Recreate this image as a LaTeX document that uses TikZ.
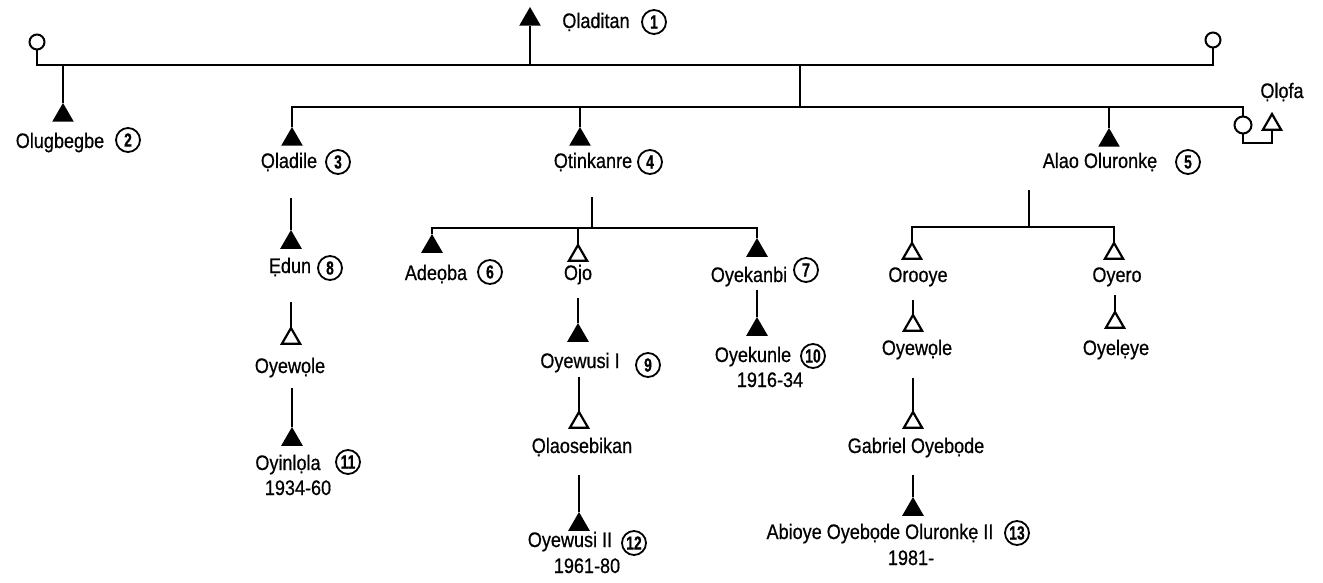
\documentclass[tikz,border=0pt]{standalone}
\usepackage{fontspec}
\setmainfont{Liberation Sans}[FakeStretch=0.86,FakeBold=0.6]
\usetikzlibrary{shapes.geometric}
\tikzset{
  male/.style={regular polygon, regular polygon sides=3, fill=black, inner sep=0pt, outer sep=0pt, minimum size=12.5pt},
  opentri/.style={regular polygon, regular polygon sides=3, draw, fill=white, line width=1.1pt, inner sep=0pt, outer sep=0pt, minimum size=10.5pt},
  female/.style={circle, draw, fill=white, line width=1pt, inner sep=0pt, outer sep=0pt, minimum size=7.5pt},
  person/.style={anchor=base, inner sep=0pt, font=\fontsize{10.5}{12}\selectfont},
  badge/.style={circle, draw, line width=0.9pt, inner sep=0pt, minimum size=12pt, font=\fontsize{9.5}{9.5}\selectfont\bfseries},
}
\newcommand{\nr}[1]{\scalebox{0.85}[1]{#1}}
\begin{document}
\begin{tikzpicture}[x=0.5pt,y=-0.5pt,line width=1pt]
\useasboundingbox (0,0) rectangle (1323,583);
% first generation
\node[male, anchor=corner 1] (tOladitan) at (530,7) {};
\node[person] (nOladitan) at (596,28) {Ọladitan};
\node[badge] (c1) at (654,22) {\nr{1}};
\node[female] (fL) at (37,42) {};
\node[female] (fR) at (1213,40) {};
\coordinate (m1) at (530,65);
\draw (fL.south) |- (m1) -| (fR.south);
\draw (m1) -- (tOladitan.side 2);
% second generation
\node[male, anchor=corner 1] (tOlugbegbe) at (63,103) {};
\node[person] (nOlugbegbe) at (60,148) {Olugbegbe};
\node[badge] (c2) at (128,140) {\nr{2}};
\draw (tOlugbegbe.corner 1 |- m1) -- (tOlugbegbe.corner 1);
\node[male, anchor=corner 1] (tOladile) at (292,127) {};
\node[person] (nOladile) at (289,168) {Ọladile};
\node[badge] (c3) at (338,162) {\nr{3}};
\node[male, anchor=corner 1] (tOtinkanre) at (580,127) {};
\node[person] (nOtinkanre) at (593,168) {Ọtinkanre};
\node[badge] (c4) at (650,162) {\nr{4}};
\node[male, anchor=corner 1] (tAlao) at (1109,128) {};
\node[person] (nAlao) at (1100,168) {Alao\ Oluronkẹ};
\node[badge] (c5) at (1188,162) {\nr{5}};
\node[female, minimum size=8.5pt] (fW) at (1243,125) {};
\node[opentri, anchor=corner 1] (tOlofa) at (1272,114) {};
\node[person] (nOlofa) at (1282,98) {Ọlọfa};
\coordinate (m2) at (800,107);
\coordinate (m3) at (1258,143);
\draw (m2 |- m1) -- (m2);
\draw (tOladile.corner 1) |- (m2) -| (fW.north);
\draw (tOtinkanre.corner 1) -- (tOtinkanre.corner 1 |- m2);
\draw (tAlao.corner 1) -- (tAlao.corner 1 |- m2);
\draw (fW.south) |- (m3) -| (tOlofa.side 2);
% line of Oladile
\node[male, anchor=corner 1] (tEdun) at (291,230) {};
\node[person] (nEdun) at (290,273) {Ẹdun};
\node[badge] (c8) at (330,268) {\nr{8}};
\node[opentri, anchor=corner 1] (tOyewole) at (291,328) {};
\node[person] (nOyewole) at (290,373) {Oyewọle};
\node[male, anchor=corner 1] (tOyinlola) at (292,427) {};
\node[person] (nOyinlola) at (288,470) {Oyinlọla};
\node[badge] (c11) at (348,462) {\nr{11}};
\node[person] (dOyinlola) at (298,495) {1934-60};
\draw (tEdun.corner 1 |- nOladile.base) ++(0,30) -- (tEdun.corner 1);
\draw (tOyewole.corner 1 |- nEdun.base) ++(0,29) -- (tOyewole.corner 1);
\draw (tOyinlola.corner 1 |- nOyewole.base) ++(0,15) -- (tOyinlola.corner 1);
% line of Otinkanre
\coordinate (m4) at (592,228);
\node[male, anchor=corner 1] (tAdeoba) at (432,234) {};
\node[person] (nAdeoba) at (436,280) {Adeọba};
\node[badge] (c6) at (490,272) {\nr{6}};
\node[opentri, anchor=corner 1] (tOjo) at (578,245) {};
\node[person] (nOjo) at (578,280) {Ojo};
\node[male, anchor=corner 1] (tOyekanbi) at (757,238) {};
\node[person] (nOyekanbi) at (749,282) {Oyekanbi};
\node[badge] (c7) at (806,270) {\nr{7}};
\draw (m4 |- nOtinkanre.base) ++(0,29) -- (m4);
\draw (tAdeoba.corner 1) |- (m4) -| (tOyekanbi.corner 1);
\draw (tOjo.corner 1) -- (tOjo.corner 1 |- m4);
\node[male, anchor=corner 1] (tOyewusiI) at (578,323) {};
\node[person] (nOyewusiI) at (580,368) {Oyewusi I};
\node[badge] (c9) at (648,365) {\nr{9}};
\node[opentri, anchor=corner 1] (tOlaosebikan) at (579,412) {};
\node[person] (nOlaosebikan) at (582,453) {Ọlaosebikan};
\node[male, anchor=corner 1] (tOyewusiII) at (579,512) {};
\node[person] (nOyewusiII) at (570,547) {Oyewusi II};
\node[badge] (c12) at (634,543) {\nr{12}};
\node[person] (dOyewusiII) at (587,573) {1961-80};
\draw (tOyewusiI.corner 1 |- nOjo.base) ++(0,18) -- (tOyewusiI.corner 1);
\draw (tOlaosebikan.corner 1 |- nOyewusiI.base) ++(0,9) -- (tOlaosebikan.corner 1);
\draw (tOyewusiII.corner 1 |- nOlaosebikan.base) ++(0,22) -- (tOyewusiII.corner 1);
\node[male, anchor=corner 1] (tOyekunle) at (757,317) {};
\node[person] (nOyekunle) at (753,362) {Oyekunle};
\node[badge] (c10) at (813,356) {\nr{10}};
\node[person] (dOyekunle) at (770,387) {1916-34};
\draw (tOyekunle.corner 1 |- nOyekanbi.base) ++(0,8) -- (tOyekunle.corner 1);
% line of Alao Oluronke
\coordinate (m5) at (1029,227);
\node[opentri, anchor=corner 1] (tOrooye) at (912,243) {};
\node[person] (nOrooye) at (918,282) {Orooye};
\node[opentri, anchor=corner 1] (tOyero) at (1114,243) {};
\node[person] (nOyero) at (1117,282) {Oyero};
\draw (m5 |- nAlao.base) ++(0,22) -- (m5);
\draw (tOrooye.corner 1) |- (m5) -| (tOyero.corner 1);
\node[opentri, anchor=corner 1] (tOyewoleB) at (913,315) {};
\node[person] (nOyewoleB) at (917,355) {Oyewọle};
\node[opentri, anchor=corner 1] (tOyeleye) at (1115,312) {};
\node[person] (nOyeleye) at (1116,355) {Oyelẹye};
\node[opentri, anchor=corner 1] (tGabriel) at (913,412) {};
\node[person] (nGabriel) at (916,453) {Gabriel\ Oyebọde};
\node[male, anchor=corner 1] (tAbioye) at (913,497) {};
\node[person] (nAbioye) at (880,539) {Abioye Oyebọde Oluronkẹ II};
\node[badge] (c13) at (1017,533) {\nr{13}};
\node[person] (dAbioye) at (911,565) {1981-};
\draw (tOyewoleB.corner 1 |- nOrooye.base) ++(0,18) -- (tOyewoleB.corner 1);
\draw (tOyeleye.corner 1 |- nOyero.base) ++(0,13) -- (tOyeleye.corner 1);
\draw (tGabriel.corner 1 |- nOyewoleB.base) ++(0,23) -- (tGabriel.corner 1);
\draw (tAbioye.corner 1 |- nGabriel.base) ++(0,22) -- (tAbioye.corner 1);
\end{tikzpicture}
\end{document}
